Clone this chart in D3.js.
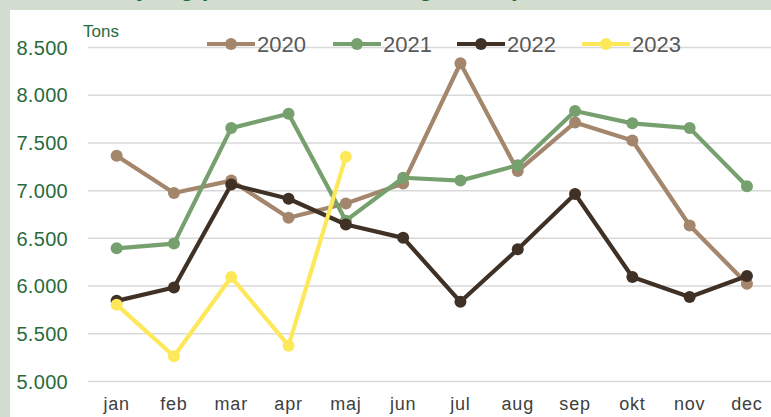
<!DOCTYPE html>
<html><head><meta charset="utf-8">
<script src="https://cdn.jsdelivr.net/npm/d3@7"></script>
<style>html,body{margin:0;padding:0;background:#d3ddcf;overflow:hidden}</style>
</head><body>
<svg id="c" width="771" height="417"></svg>
<script>
const months = ["jan","feb","mar","apr","maj","jun","jul","aug","sep","okt","nov","dec"];
const yTicks = [5000,5500,6000,6500,7000,7500,8000,8500];
const years = ["2020","2021","2022","2023"];
const colors = ["#a3866c","#76a06e","#3f3125","#fde85a"];
const v2020 = [7360,6970,7100,6710,6860,7070,8330,7200,7710,7520,6630,6020];
const v2021 = [6390,6440,7650,7800,6680,7130,7100,7260,7830,7700,7650,7040];
const v2022 = [5840,5980,7060,6910,6640,6500,5830,6380,6960,6090,5880,6100];
const v2023 = [5800,5260,6090,5370,7350];
const series = [v2020,v2021,v2022,v2023];

const FONT = "Liberation Sans, Arial, sans-serif";
const svg = d3.select("#c");
svg.append("rect").attr("x",0).attr("y",0).attr("width",771).attr("height",417).attr("fill","#d3ddcf");
svg.append("text").attr("x",75).attr("y",-4).attr("fill","#1f6b35").attr("font-family",FONT)
  .attr("font-weight","bold").attr("font-size",24)
  .text("Indvejning pr. måned, udvikling i tons pr. år");
svg.append("rect").attr("x",10).attr("y",10).attr("width",771).attr("height",417).attr("fill","#ffffff");

const x = d3.scaleBand().domain(months).range([88, 88+12*57.3]);
const y = d3.scaleLinear().domain([5000,8500]).range([381,47]);
const fmt = d => d3.format(",")(d).replace(/,/g,".");

const yAxis = d3.axisLeft(y).tickValues(yTicks).tickSize(-(771-88)).tickFormat(fmt);
const gy = svg.append("g").attr("transform","translate(88,0)").call(yAxis);
gy.select(".domain").remove();
gy.selectAll(".tick line").attr("stroke","#d9d9d9").attr("stroke-width",1.5);
gy.selectAll(".tick text").attr("x",-20).attr("fill","#2a6b3c").attr("dy","0.36em")
  .attr("font-family",FONT).attr("font-size",20).attr("letter-spacing",0.3);

const xAxis = d3.axisBottom(x).tickSize(0).tickPadding(0);
const gx = svg.append("g").attr("transform","translate(0,397)").call(xAxis);
gx.select(".domain").remove();
gx.selectAll(".tick text").attr("fill","#404040").attr("dy","0.71em")
  .attr("font-family",FONT).attr("font-size",18).attr("letter-spacing",0.8);

svg.append("text").attr("x",83).attr("y",37).attr("fill","#2a6b3c")
  .attr("font-family",FONT).attr("font-size",17).text("Tons");

const cx = m => x(m) + x.bandwidth()/2;
const line = d3.line().x((d,i)=>cx(months[i])).y(d=>y(d));
series.forEach((s,k)=>{
  const g = svg.append("g");
  g.append("path").datum(s).attr("d",line).attr("fill","none").attr("stroke",colors[k])
    .attr("stroke-width",4.2).attr("stroke-linejoin","round");
  g.selectAll("circle").data(s).enter().append("circle")
    .attr("cx",(d,i)=>cx(months[i])).attr("cy",d=>y(d)).attr("r",6).attr("fill",colors[k]);
});

const legX = [207,333,457,582];
years.forEach((yr,k)=>{
  const g = svg.append("g").attr("transform",`translate(${legX[k]},44)`);
  g.append("line").attr("x1",0).attr("x2",48).attr("y1",0).attr("y2",0).attr("stroke",colors[k]).attr("stroke-width",4.2);
  g.append("circle").attr("cx",24).attr("cy",0).attr("r",6).attr("fill",colors[k]);
  g.append("text").attr("x",50).attr("y",8).attr("fill","#595959")
    .attr("font-family",FONT).attr("font-size",22).text(yr);
});
</script>
</body></html>
